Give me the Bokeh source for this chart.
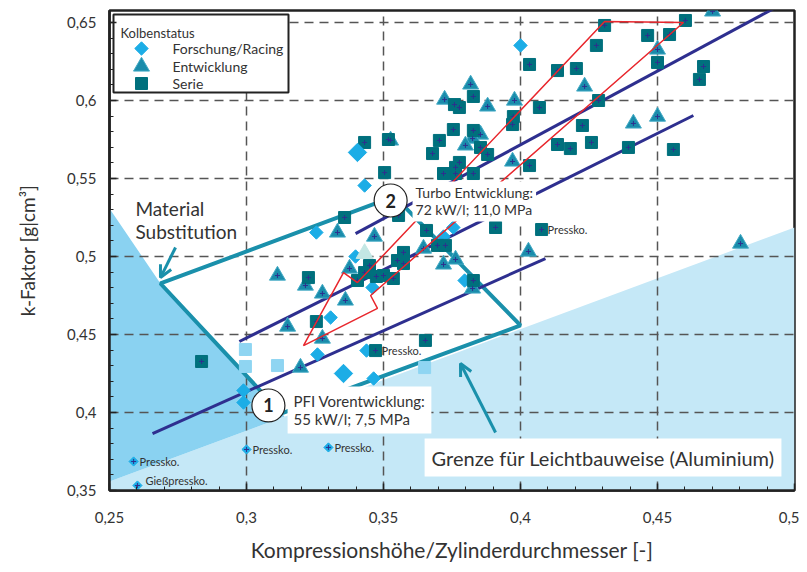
import math
from bokeh.plotting import figure
from bokeh.models import FixedTicker, Label, Arrow, OpenHead, Range1d
from bokeh.core.properties import value
from bokeh.embed import file_html
from bokeh.resources import INLINE

FONT = "Lato"

# ---------------- data ----------------
x_ticks = [0.25, 0.3, 0.35, 0.4, 0.45, 0.5]
x_tick_labels = ["0,25", "0,3", "0,35", "0,4", "0,45", "0,5"]
y_ticks = [0.35, 0.4, 0.45, 0.5, 0.55, 0.6, 0.65]
y_tick_labels = ["0,35", "0,4", "0,45", "0,5", "0,55", "0,6", "0,65"]

# Forschung/Racing (diamonds)
racing_x = [0.3431, 0.3255, 0.400, 0.3398, 0.3307, 0.3259, 0.3438, 0.346, 0.3719,
            0.3755, 0.3796, 0.3464, 0.2989, 0.2989]
racing_y = [0.5455, 0.5154, 0.6353, 0.500, 0.4609, 0.4372, 0.4397, 0.4801, 0.5128,
            0.5186, 0.4846, 0.4218, 0.4141, 0.4064]
racing_big_x = [0.3405, 0.3354]
racing_big_y = [0.5667, 0.425]
pressko_x = [0.30, 0.3299, 0.2588, 0.2602]
pressko_y = [0.3763, 0.3776, 0.3686, 0.3532]

# Entwicklung (triangles)
entw_x = [0.4701, 0.45, 0.4234, 0.3818, 0.3723, 0.388, 0.3978, 0.4412, 0.45, 0.3854,
          0.3825, 0.3799, 0.3971, 0.4803, 0.4029, 0.3526, 0.3332, 0.3467, 0.3376, 0.3646,
          0.3719, 0.3763, 0.3825, 0.3361, 0.3113, 0.3215, 0.3277, 0.315, 0.3277, 0.3197]
entw_y = [0.6571, 0.6327, 0.609, 0.6103, 0.6006, 0.5962, 0.60, 0.5853, 0.5897, 0.5782,
          0.5756, 0.5712, 0.5609, 0.5083, 0.5032, 0.5744, 0.5154, 0.5128, 0.4923, 0.5051,
          0.4949, 0.4981, 0.4795, 0.4718, 0.4878, 0.4814, 0.4763, 0.4551, 0.4474, 0.4288]
entw_pale_x = [0.3431]
entw_pale_y = [0.5019]

# Serie (squares)
serie_x = [0.4602, 0.4307, 0.4544, 0.4464, 0.4277, 0.45, 0.4033, 0.4135, 0.4204, 0.4668,
           0.4653, 0.3828, 0.3759, 0.3777, 0.4069, 0.4285, 0.3974, 0.3971, 0.4226, 0.3755,
           0.3828, 0.3704, 0.3854, 0.388, 0.3679, 0.4135, 0.4182, 0.4259, 0.4394, 0.4558,
           0.3777, 0.3763, 0.3719, 0.3763, 0.3828, 0.4033, 0.3909, 0.4077, 0.3657, 0.3431,
           0.3518, 0.3504, 0.3358, 0.3555, 0.3573, 0.3697, 0.3726, 0.3449, 0.3431, 0.3551,
           0.3573, 0.3474, 0.35, 0.3536, 0.3405, 0.3828, 0.3226, 0.3255, 0.3653, 0.3471,
           0.2836]
serie_y = [0.6513, 0.6481, 0.6423, 0.6417, 0.6353, 0.6244, 0.6231, 0.6192, 0.6205, 0.6218,
           0.6135, 0.6026, 0.5974, 0.5955, 0.5955, 0.60, 0.5897, 0.5846, 0.584, 0.5814,
           0.5808, 0.5744, 0.5699, 0.5654, 0.566, 0.5718, 0.5692, 0.5731, 0.5699, 0.5686,
           0.5603, 0.5571, 0.5532, 0.5532, 0.5532, 0.5583, 0.5186, 0.5173, 0.5167, 0.5731,
           0.575, 0.5538, 0.525, 0.5263, 0.5026, 0.5071, 0.5071, 0.4942, 0.4897, 0.4974,
           0.4955, 0.4872, 0.4878, 0.4859, 0.4846, 0.4846, 0.4865, 0.4583, 0.4462, 0.4397,
           0.4327]
serie_pale_x = [0.2996, 0.2996, 0.3113, 0.365]
serie_pale_y = [0.4404, 0.4295, 0.4301, 0.4288]

# "Pressko." labels
press_lbl_x = [0.30, 0.3299, 0.2588, 0.3471, 0.4077]
press_lbl_y = [0.3763, 0.3776, 0.3686, 0.4397, 0.5173]
press_lbl_txt = ["Pressko.", "Pressko.", "Pressko.", "Pressko.", "Pressko."]
giess_lbl_x = [0.2602]
giess_lbl_y = [0.3532]
giess_lbl_txt = ["Gießpressko."]

# regions / outlines
light_x = [0.25, 0.25, 0.5, 0.5]
light_y = [0.35, 0.3558, 0.5186, 0.35]
dark_x = [0.25, 0.2686, 0.3139, 0.25]
dark_y = [0.5308, 0.4827, 0.3974, 0.3558]
teal_x = [0.2686, 0.354, 0.40, 0.3128]
teal_y = [0.4827, 0.5385, 0.4558, 0.3994]
red_x = [0.4307, 0.4595, 0.3453, 0.3478, 0.3208, 0.3354, 0.3405]
red_y = [0.6506, 0.65, 0.475, 0.4667, 0.4429, 0.4897, 0.4833]
trend1_x = [0.3398, 0.4931]
trend1_y = [0.5147, 0.6596]
trend2_x = [0.2974, 0.4631]
trend2_y = [0.4455, 0.5904]
trend3_x = [0.2657, 0.4091]
trend3_y = [0.3865, 0.4987]

# numbered circles
circ_x = [0.308, 0.3526]
circ_y = [0.4045, 0.5359]
circ_txt = ["1", "2"]

# legend entries
legend_title = "Kolbenstatus"
legend_labels = ["Forschung/Racing", "Entwicklung", "Serie"]

# ---------------- colours ----------------
C_RACE = "#1cade6"
C_ENTW = "#1a8cab"
C_SERIE = "#00707d"
C_TEAL = "#1a90ab"
C_NAVY = "#2e2f8f"
C_RED = "#e8262c"
C_TXT = "#333333"
DIAMOND = math.pi / 4

FW, FH = 685, 480
p = figure(frame_width=FW, frame_height=FH, x_range=(0.25, 0.5), y_range=(0.35, 0.6577),
           min_border_left=109, min_border_right=5, min_border_top=10, min_border_bottom=80,
           output_backend="svg", toolbar_location=None)
p.background_fill_color = "white"
p.border_fill_color = "white"
p.outline_line_color = "#222222"
p.outline_line_width = 2.5
# pixel ranges of the frame, used only to place the legend box
p.extra_x_ranges = {"px": Range1d(0, FW)}
p.extra_y_ranges = {"py": Range1d(FH, 0)}

# regions
p.patch(light_x, light_y, fill_color="#c5e8f7", line_color=None, level="image")
p.patch(dark_x, dark_y, fill_color="#8ad2f1", line_color=None, level="image")

# grid
p.xgrid.ticker = FixedTicker(ticks=[0.3, 0.35, 0.4, 0.45])
p.ygrid.ticker = FixedTicker(ticks=[0.4, 0.45, 0.5, 0.55, 0.6, 0.65])
for g in (p.xgrid, p.ygrid):
    g.grid_line_color = "#555555"
    g.grid_line_width = 1.5
    g.grid_line_dash = "9 6"

# outlines
p.patch(teal_x, teal_y, fill_color=None, line_color=C_TEAL, line_width=4)
for lx, ly in ((trend1_x, trend1_y), (trend2_x, trend2_y), (trend3_x, trend3_y)):
    p.line(lx, ly, line_color=C_NAVY, line_width=3)

# markers
race_style = dict(marker="square", angle=DIAMOND, fill_color=C_RACE, line_color=C_RACE)
entw_style = dict(marker="triangle", fill_color=C_ENTW, line_color="#45acc6", line_width=1)
serie_style = dict(marker="square", fill_color=C_SERIE, line_color=C_SERIE)
p.scatter(racing_x, racing_y, size=9.5, **race_style)
p.scatter(entw_x, entw_y, size=16, **entw_style)
p.scatter(serie_x, serie_y, size=12, **serie_style)
p.scatter(racing_big_x, racing_big_y, size=13, **race_style)
p.scatter(pressko_x, pressko_y, size=6.5, **race_style)
p.scatter(entw_pale_x, entw_pale_y, marker="triangle", size=17, fill_color="#c3e7e4", line_color="#c3e7e4")
p.scatter(serie_pale_x, serie_pale_y, marker="square", size=12, fill_color="#8fd5f2", line_color="#8fd5f2")
p.scatter(entw_x + serie_x + pressko_x, entw_y + serie_y + pressko_y, marker="cross", size=5,
          line_color=C_NAVY, line_width=1)

# red arrow outline
p.patch(red_x, red_y, fill_color=None, line_color=C_RED, line_width=1.5)

# numbered circles
p.scatter(circ_x, circ_y, marker="circle", size=33, fill_color="white", line_color="#222222", line_width=1.2)
p.text(circ_x, circ_y, text=circ_txt, text_align="center", text_baseline="middle",
       text_font=value(FONT), text_font_size="18px", text_font_style="bold", text_color="#222222")

# pressko labels
p.text(press_lbl_x, press_lbl_y, text=press_lbl_txt, x_offset=6, text_baseline="middle",
       text_font=value(FONT), text_font_size="11px", text_color=C_TXT)
p.text(giess_lbl_x, giess_lbl_y, text=giess_lbl_txt, x_offset=8, y_offset=-5, text_baseline="middle",
       text_font=value(FONT), text_font_size="11px", text_color=C_TXT)

# text annotations
p.add_layout(Label(x=0.315, y=0.4167, text="PFI Vorentwicklung:\n55 kW/l; 7,5 MPa",
                   text_font=FONT, text_font_size="15px", text_color=C_TXT, text_baseline="top",
                   text_line_height=0.95, background_fill_color="white", padding=6))
p.add_layout(Label(x=0.3606, y=0.5481, text="Turbo Entwicklung:\n72 kW/l; 11,0 MPa",
                   text_font=FONT, text_font_size="14px", text_color=C_TXT, text_baseline="top",
                   text_line_height=1.0, background_fill_color="white", padding=3))
p.add_layout(Label(x=0.2591, y=0.5391, text="Material\nSubstitution",
                   text_font=FONT, text_font_size="19px", text_color=C_TXT, text_baseline="top",
                   text_line_height=1.0, background_fill_color="white", padding=1))
p.add_layout(Label(x=0.365, y=0.3833, text="Grenze für Leichtbauweise (Aluminium)",
                   text_font=FONT, text_font_size="20px", text_color=C_TXT, text_baseline="top",
                   background_fill_color="white", padding=7))

# arrows
p.add_layout(Arrow(end=OpenHead(size=12, line_color=C_TEAL, line_width=3),
                   x_start=0.2741, y_start=0.5058, x_end=0.2686, y_end=0.4865,
                   line_color=C_TEAL, line_width=3))
p.add_layout(Arrow(end=OpenHead(size=12, line_color=C_TEAL, line_width=3),
                   x_start=0.3909, y_start=0.3872, x_end=0.3781, y_end=0.4314,
                   line_color=C_TEAL, line_width=3))

# legend (drawn in frame pixel coordinates)
p.quad(left=[4], right=[179], top=[4], bottom=[82], x_range_name="px", y_range_name="py",
       fill_color="white", line_color="#222222", line_width=2)
p.text([11], [22], text=[legend_title], x_range_name="px", y_range_name="py",
       text_baseline="middle", text_font=value(FONT), text_font_size="13px", text_color=C_TXT)
p.scatter([32], [38], size=9.5, x_range_name="px", y_range_name="py", **race_style)
p.scatter([32], [56], size=16, x_range_name="px", y_range_name="py", **entw_style)
p.scatter([32], [73], size=12, x_range_name="px", y_range_name="py", **serie_style)
p.text([63, 63, 63], [38, 56, 73], text=legend_labels, x_range_name="px", y_range_name="py",
       text_baseline="middle", text_font=value(FONT), text_font_size="14px", text_color=C_TXT)

# axes
p.xaxis.ticker = FixedTicker(ticks=x_ticks, minor_ticks=[round(0.25 + 0.01 * i, 2) for i in range(26)])
p.yaxis.ticker = FixedTicker(ticks=y_ticks, minor_ticks=[round(0.35 + 0.01 * i, 2) for i in range(31)])
p.xaxis.major_label_overrides = dict(zip(x_ticks, x_tick_labels))
p.yaxis.major_label_overrides = dict(zip(y_ticks, y_tick_labels))
p.xaxis.axis_label = "Kompressionshöhe/Zylinderdurchmesser [-]"
p.yaxis.axis_label = "k-Faktor [g|cm³]"
for ax in (p.xaxis, p.yaxis):
    ax.axis_line_color = "#222222"
    ax.axis_line_width = 2.5
    ax.major_tick_in = 7
    ax.major_tick_out = 0
    ax.minor_tick_in = 4
    ax.minor_tick_out = 0
    ax.major_tick_line_color = "#222222"
    ax.minor_tick_line_color = "#222222"
    ax.major_tick_line_width = 1.5
    ax.major_label_text_font = FONT
    ax.major_label_text_font_size = "15px"
    ax.major_label_text_color = C_TXT
    ax.axis_label_text_font = FONT
    ax.axis_label_text_font_style = "normal"
    ax.axis_label_text_color = C_TXT
p.xaxis.axis_label_text_font_size = "21px"
p.yaxis.axis_label_text_font_size = "19px"
p.xaxis.major_label_standoff = 21
p.xaxis.axis_label_standoff = 11
p.yaxis.major_label_standoff = 13
p.yaxis.axis_label_standoff = 25

open("out.html", "w").write(file_html(p, INLINE))
